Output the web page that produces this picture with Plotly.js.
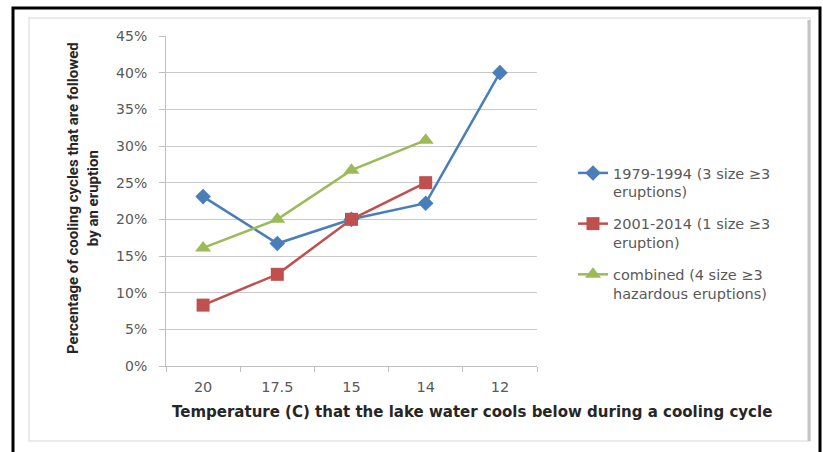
<!DOCTYPE html>
<html>
<head>
<meta charset="utf-8">
<script src="https://cdn.plot.ly/plotly-3.0.1.min.js"></script>
<style>
  html, body { margin: 0; padding: 0; background: #ffffff; }
  #chart { width: 823px; height: 452px; }
</style>
</head>
<body>
<div id="chart"></div>
<script>
// Cooling-cycle temperature thresholds (categories along the x axis)
const temperatures = ["20", "17.5", "15", "14", "12"];

// Share of cooling cycles followed by an eruption, per period
const period1979_1994 = [0.231, 0.167, 0.20, 0.222, 0.40];
const period2001_2014 = [0.083, 0.125, 0.20, 0.25, null];
const combined = [0.161, 0.20, 0.267, 0.308, null];

const seriesNames = [
  "1979-1994 (3 size \u22653<br>eruptions)",
  "2001-2014 (1 size \u22653<br>eruption)",
  "combined (4 size \u22653<br>hazardous eruptions)"
];

const yTitle = "Percentage of cooling cycles that are followed<br>by an eruption";
const xTitle = "Temperature (C) that the lake water cools below during a cooling cycle";

// Plot-area geometry in pixels
const W = 823, H = 452;
const L = 166, R = 537, T = 36, B = 366;
const px = x => (x - L) / (R - L);
const py = y => (B - y) / (B - T);

const baseFamily = "DejaVu Sans, Open Sans, sans-serif";

function series(y, name, color, symbol, size, group) {
  return {
    type: "scatter", mode: "lines+markers",
    x: temperatures, y: y, name: name,
    legendgroup: group,
    line: { color: color, width: 2.5 },
    marker: { color: color, symbol: symbol, size: size, line: { width: 0 } },
    connectgaps: false,
    hoverinfo: "x+y"
  };
}

const data = [
  series(period1979_1994, seriesNames[0], "#4a7ebb", "diamond", 12, "a"),
  series(period2001_2014, seriesNames[1], "#c0504d", "square", 13, "b"),
  series(combined, seriesNames[2], "#9bbb59", "triangle-up", 14, "c")
];

const layout = {
  width: W, height: H,
  margin: { l: L, r: W - R, t: T, b: H - B, pad: 0 },
  paper_bgcolor: "#ffffff",
  plot_bgcolor: "#ffffff",
  showlegend: true,
  legend: {
    x: px(573), xanchor: "left",
    y: py(157), yanchor: "top",
    font: { family: baseFamily, size: 14.5, color: "#595959" },
    valign: "top",
    traceorder: "grouped",
    tracegroupgap: 10,
    bgcolor: "rgba(0,0,0,0)",
    itemwidth: 30
  },
  xaxis: {
    type: "category",
    range: [-0.5, 4.5],
    showgrid: false,
    showline: true, linecolor: "#bfbfbf", linewidth: 1,
    ticks: "outside", ticklen: 5, tickcolor: "#bfbfbf",
    tickson: "boundaries",
    tickfont: { family: baseFamily, size: 14.5, color: "#595959" },
    ticklabelstandoff: 8,
    zeroline: false,
    fixedrange: true
  },
  yaxis: {
    range: [0, 0.45],
    dtick: 0.05,
    tickformat: ".0%",
    showgrid: true, gridcolor: "#c8c8c8", gridwidth: 1,
    showline: true, linecolor: "#bfbfbf", linewidth: 1,
    ticks: "outside", ticklen: 6, tickcolor: "#bfbfbf",
    tickfont: { family: baseFamily, size: 14, color: "#595959" },
    ticklabelstandoff: 9,
    zeroline: false,
    fixedrange: true
  },
  annotations: [
    {
      text: yTitle, textangle: -90,
      xref: "paper", yref: "paper",
      x: px(83), y: py(198), xanchor: "center", yanchor: "middle",
      showarrow: false,
      font: { family: "Liberation Sans Narrow, Roboto, sans-serif", size: 15, color: "#262626", weight: "bold" }
    },
    {
      text: "<b>" + xTitle + "</b>",
      xref: "paper", yref: "paper",
      x: px(472), y: py(412), xanchor: "center", yanchor: "middle",
      showarrow: false,
      font: { family: baseFamily, size: 15, color: "#262626" }
    }
  ],
  shapes: [
    // outer black frame (open at the bottom edge)
    { type: "rect", xref: "paper", yref: "paper",
      x0: px(13), x1: px(820), y0: py(470), y1: py(8),
      line: { color: "#000000", width: 3 }, fillcolor: "rgba(0,0,0,0)", layer: "below" },
    // inner light chart frame
    { type: "rect", xref: "paper", yref: "paper",
      x0: px(29), x1: px(810), y0: py(441), y1: py(18),
      line: { color: "#e3e3e3", width: 1.5 }, fillcolor: "rgba(0,0,0,0)", layer: "below" },
    // shaded right edge of the inner frame
    { type: "line", xref: "paper", yref: "paper",
      x0: px(809), x1: px(809), y0: py(441), y1: py(20),
      line: { color: "#c4c4c4", width: 3 }, layer: "below" }
  ]
};

Plotly.newPlot("chart", data, layout, { displayModeBar: false, staticPlot: true });
</script>
</body>
</html>
